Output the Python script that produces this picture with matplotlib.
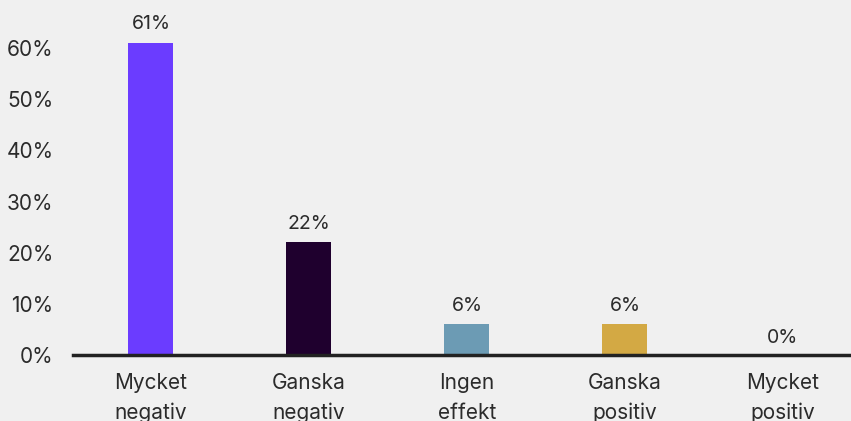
import matplotlib.pyplot as plt

categories = ["Mycket\nnegativ", "Ganska\nnegativ", "Ingen\neffekt", "Ganska\npositiv", "Mycket\npositiv"]
values = [61, 22, 6, 6, 0]
colors = ["#6b3cff", "#1f002e", "#6c9bb4", "#d3a944", "#d3a944"]
yticks = [0, 10, 20, 30, 40, 50, 60]

plt.rcParams["font.family"] = ["Inter", "DejaVu Sans"]
bg = "#f0f0f0"
text_color = "#2b2b2b"

fig = plt.figure(figsize=(8.51, 4.21), dpi=100, facecolor=bg)
ax = fig.add_axes([73 / 851, 66 / 421, 1 - 73 / 851, 355 / 421])
ax.set_facecolor(bg)

x = range(len(categories))
ax.bar(x, values, width=0.285, color=colors)

for i, v in enumerate(values):
    ax.annotate(f"{v}%", (i, v), xytext=(0, 7 if v > 0 else 6), textcoords="offset points",
                ha="center", va="bottom", fontsize=14, color=text_color)

ax.set_xlim(-0.493, 4.431)
ax.set_ylim(0, 69.4)
ax.set_yticks(yticks)
ax.set_yticklabels([f"{t}%" for t in yticks])
ax.set_xticks(list(x))
ax.set_xticklabels(categories, linespacing=1.6)

ax.tick_params(axis="y", length=0, pad=14, labelsize=15, labelcolor=text_color)
ax.tick_params(axis="x", length=0, pad=13, labelsize=15, labelcolor=text_color)

for s in ["top", "right", "left"]:
    ax.spines[s].set_visible(False)
ax.spines["bottom"].set_color("#222222")
ax.spines["bottom"].set_linewidth(2.5)

fig.savefig("out.png", dpi=100, facecolor=bg)
